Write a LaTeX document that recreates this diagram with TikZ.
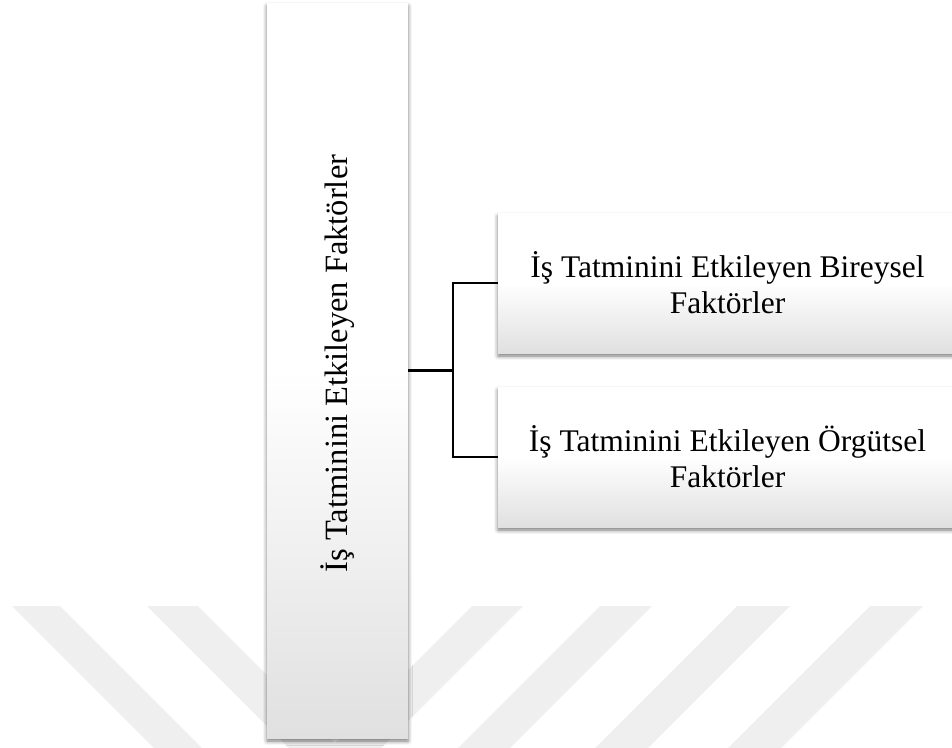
\documentclass[tikz,border=0pt]{standalone}
\usepackage{fontspec}
\usepackage{graphicx}
\setmainfont{Liberation Serif}
\usetikzlibrary{shadows.blur}
\definecolor{boxgray}{HTML}{E0E0E0}
\definecolor{markgray}{HTML}{EFEFEF}

\begin{document}
\begin{tikzpicture}[x=1pt,y=-1pt,
  panel/.style={rectangle, inner sep=0pt, draw=none,
    top color=white, bottom color=boxgray, middle color=white,
    blur shadow={shadow xshift=0pt, shadow yshift=-3pt,
      shadow blur radius=4pt, shadow opacity=55}},
  label/.style={font=\fontsize{31.5}{36}\selectfont, align=center, inner sep=0pt},
  conn/.style={line width=2.3pt, draw=black},
  stripe/.style={fill=markgray, draw=none}]

\useasboundingbox (0,0) rectangle (952,747);
\clip (0,0) rectangle (952,747);

% faint diagonal stripes in the background
\fill[stripe] (12,606) -- (60,606) -- (260,806) -- (212,806) -- cycle;
\fill[stripe] (147,606) -- (198,606) -- (398,806) -- (347,806) -- cycle;
\fill[stripe] (472,606) -- (523,606) -- (323,806) -- (272,806) -- cycle;
\fill[stripe] (600,606) -- (652,606) -- (452,806) -- (400,806) -- cycle;
\fill[stripe] (737,606) -- (790,606) -- (590,806) -- (537,806) -- cycle;
\fill[stripe] (870,606) -- (923,606) -- (723,806) -- (670,806) -- cycle;

% main box and its vertical caption
\node[panel, minimum width=141pt, minimum height=735pt] (main) at (337.5,370.5) {};
\node[label, font=\fontsize{32.5}{36}\selectfont] (maintext) at (337.5,363.5)
  {\rotatebox{90}{İş Tatminini Etkileyen Faktörler}};

% the two factor boxes
\node[panel, minimum width=459pt, minimum height=140pt] (indiv) at (727.5,283) {};
\node[label] (indivtext) at (indiv.center) {İş Tatminini Etkileyen Bireysel\\Faktörler};
\node[panel, minimum width=459pt, minimum height=140pt] (org) at (727.5,457) {};
\node[label] (orgtext) at (org.center) {İş Tatminini Etkileyen Örgütsel\\Faktörler};

% connectors
\coordinate (split) at (453,370.5);
\draw[conn] (main.east) -- (split);
\draw[conn] (split) |- (indiv.west);
\draw[conn] (split) |- (org.west);
\end{tikzpicture}
\end{document}
